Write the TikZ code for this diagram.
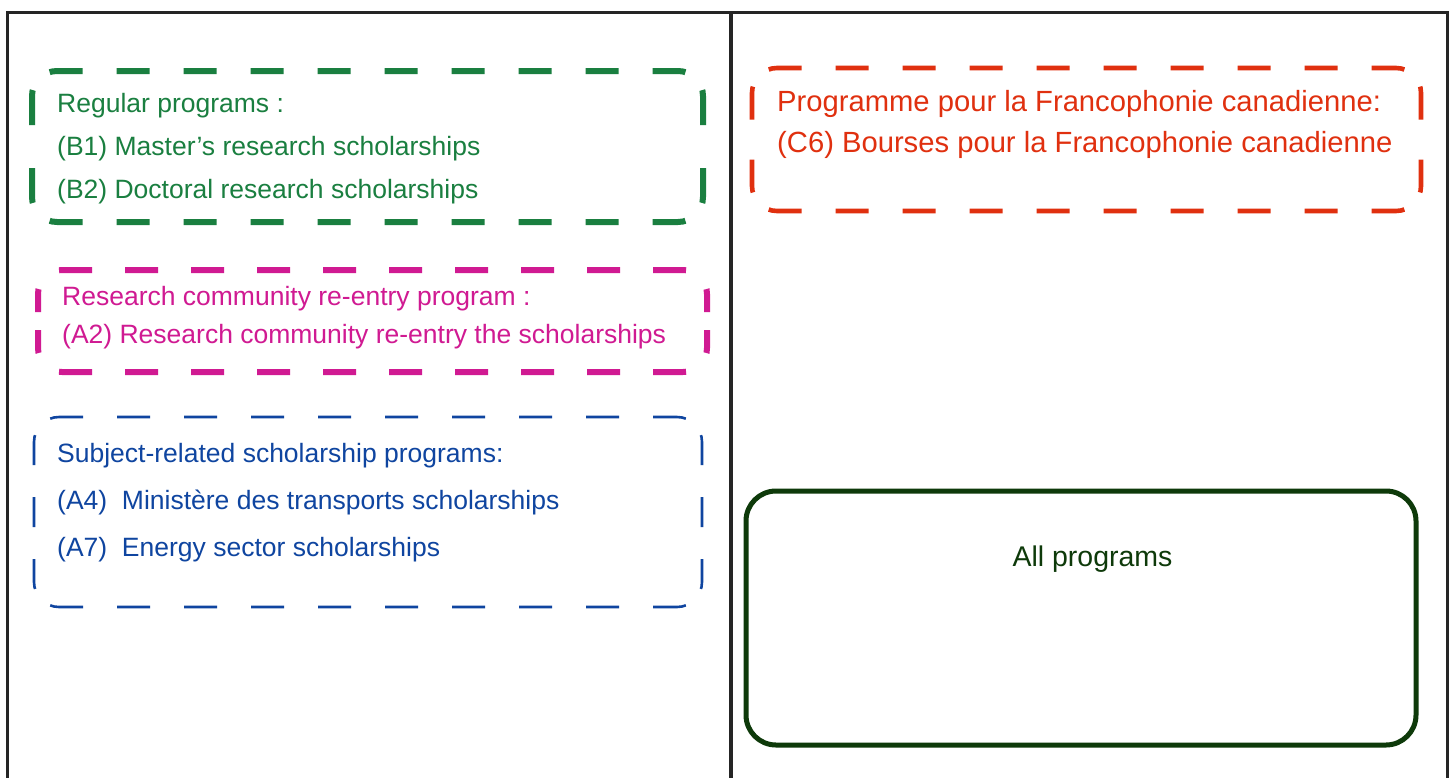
\documentclass[tikz,border=0pt]{standalone}
\usepackage{fontspec}
\setmainfont{Liberation Sans}
\definecolor{cgreen}{HTML}{1A7F40}
\definecolor{cpink}{HTML}{D01A92}
\definecolor{cblue}{HTML}{0F45A0}
\definecolor{cred}{HTML}{E0300F}
\definecolor{cdark}{HTML}{0E3A0A}
\definecolor{cframe}{HTML}{252525}
% pattern: horizontal dash, gap, centred-dash flag; vertical dash, gap, flag
\newcommand\mysetpat[6]{\def\pdh{#1}\def\pgh{#2}\def\pch{#3}\def\pdv{#4}\def\pgv{#5}\def\pcv{#6}}
% #1 colour, #2 line width, #3 x0, #4 y0 (bottom), #5 x1, #6 y1 (top), #7 radius
\newcommand\mydashedbox[7]{%
  \pgfmathsetmacro\Lh{(#5)-(#3)-2*(#7)+pi*(#7)/2}%
  \pgfmathsetmacro\Lv{(#6)-(#4)-2*(#7)+pi*(#7)/2}%
  \pgfmathsetmacro\Ph{mod(\pdh*(1-\pch/2)+\pgh*(1-\pch)/2-\Lh/2+100*(\pdh+\pgh),\pdh+\pgh)}%
  \pgfmathsetmacro\Pv{mod(\pdv*(1-\pcv/2)+\pgv*(1-\pcv)/2-\Lv/2+100*(\pdv+\pgv),\pdv+\pgv)}%
  \begin{scope}[draw=#1,line width=#2]
  \draw[dash pattern=on \pdh pt off \pgh pt,dash phase=\Ph pt]
    ([shift={(135:#7)}]#3+#7,#6-#7) arc[start angle=135,end angle=90,radius=#7]
    -- (#5-#7,#6) arc[start angle=90,end angle=45,radius=#7];
  \draw[dash pattern=on \pdh pt off \pgh pt,dash phase=\Ph pt]
    ([shift={(225:#7)}]#3+#7,#4+#7) arc[start angle=225,end angle=270,radius=#7]
    -- (#5-#7,#4) arc[start angle=270,end angle=315,radius=#7];
  \draw[dash pattern=on \pdv pt off \pgv pt,dash phase=\Pv pt]
    ([shift={(135:#7)}]#3+#7,#6-#7) arc[start angle=135,end angle=180,radius=#7]
    -- (#3,#4+#7) arc[start angle=180,end angle=225,radius=#7];
  \draw[dash pattern=on \pdv pt off \pgv pt,dash phase=\Pv pt]
    ([shift={(45:#7)}]#5-#7,#6-#7) arc[start angle=45,end angle=0,radius=#7]
    -- (#5,#4+#7) arc[start angle=0,end angle=-45,radius=#7];
  \end{scope}}
\begin{document}
\begin{tikzpicture}[x=1pt,y=1pt,
  txt/.style={anchor=base west,inner sep=0pt,font=\fontsize{26.5}{30}\selectfont},
  rtxt/.style={anchor=base west,inner sep=0pt,font=\fontsize{29.2}{32}\selectfont,text=cred}]
\useasboundingbox (0,0) rectangle (1451,-777);
\fill[white] (0,0) rectangle (1451,-777);
% frame
\coordinate (fbl) at (7,-790);
\coordinate (ftl) at (7,-12);
\coordinate (ftr) at (1447,-12);
\coordinate (fbr) at (1447,-790);
\coordinate (dtop) at (731,-12);
\coordinate (dbot) at (731,-790);
\draw[cframe,line width=3pt] (fbl) -- (ftl) -- (ftr) -- (fbr);
\draw[cframe,line width=3.4pt] (dtop) -- (dbot);
% dashed boxes
\mysetpat{33}{34}{0}{35}{43}{0}
\mydashedbox{cgreen}{6pt}{32}{-222}{703}{-71}{25}
\mysetpat{33}{33}{0}{23}{18}{0}
\mydashedbox{cpink}{6pt}{38}{-372}{707}{-270}{24}
\mysetpat{33}{34}{0}{30}{32}{1}
\mydashedbox{cblue}{2.6pt}{34}{-607}{702}{-417}{25}
\mysetpat{33}{34}{0}{33}{40}{0}
\mydashedbox{cred}{4.6pt}{752}{-211}{1421}{-68}{25}
% solid box
\node[rectangle,rounded corners=30pt,draw=cdark,line width=5pt,minimum width=670pt,minimum height=254pt,inner sep=0pt] (all) at (1081,-618) {};
% texts
\node[txt,text=cgreen] (g1) at (57,-112) {Regular programs :};
\node[txt,text=cgreen] (g2) at (57,-155) {(B1) Master’s research scholarships};
\node[txt,text=cgreen] (g3) at (57,-198) {(B2) Doctoral research scholarships};
\node[txt,text=cpink] (p1) at (62,-305) {Research community re-entry program :};
\node[txt,text=cpink] (p2) at (62,-343) {(A2) Research community re-entry the scholarships};
\node[txt,text=cblue] (b1) at (57,-462) {Subject-related scholarship programs:};
\node[txt,text=cblue] (b2) at (57,-509) {(A4)\ \ Ministère des transports scholarships};
\node[txt,text=cblue] (b3) at (57,-556) {(A7)\ \ Energy sector scholarships};
\node[rtxt] (r1) at (777,-111) {Programme pour la Francophonie canadienne:};
\node[rtxt] (r2) at (777,-152) {(C6) Bourses pour la Francophonie canadienne};
\node[anchor=base,inner sep=0pt,font=\fontsize{28.5}{30}\selectfont,text=cdark] (alltxt) at (1092.5,-566) {All programs};
\end{tikzpicture}
\end{document}
